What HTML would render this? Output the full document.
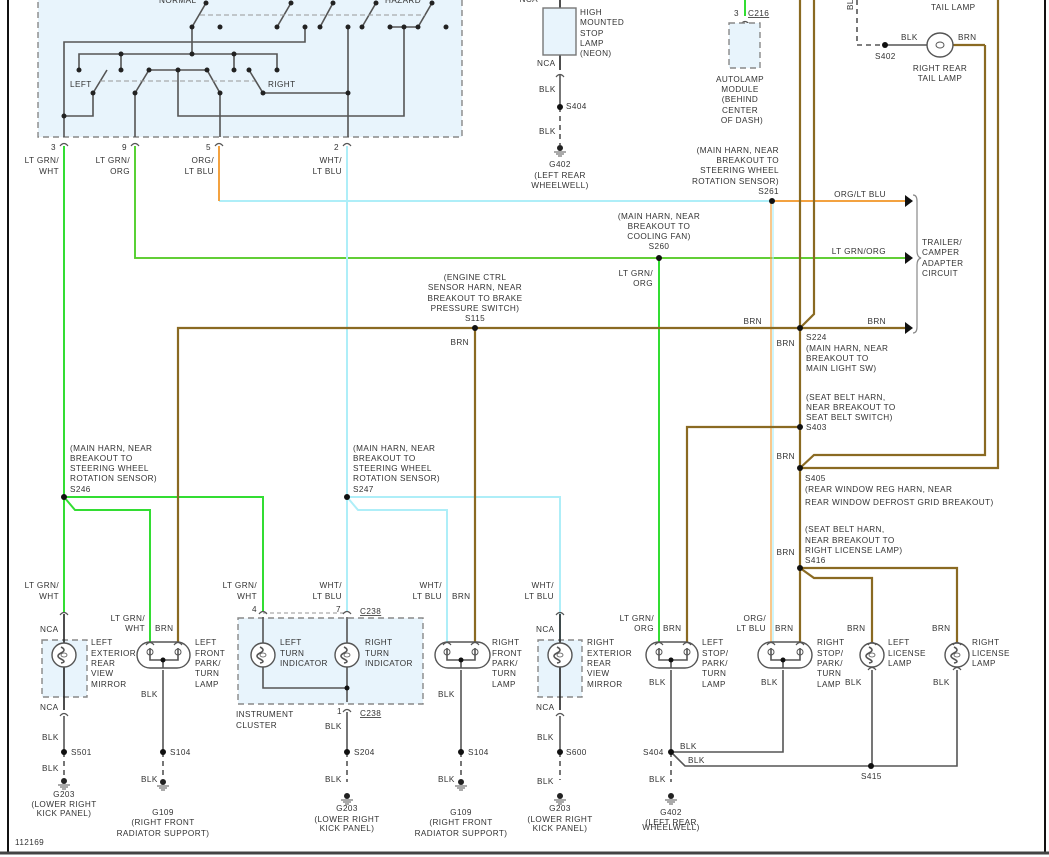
<!DOCTYPE html>
<html><head><meta charset="utf-8"><style>
body{margin:0;background:#fff}
svg{display:block}
text{font-family:"Liberation Sans",sans-serif;font-size:8.2px;fill:#333;letter-spacing:0.4px}
.g{stroke:#555;stroke-width:1.6;fill:none}
.k{stroke:#222;stroke-width:1.6;fill:none}
.d{stroke:#555;stroke-width:1.6;fill:none;stroke-dasharray:5 4}
.grn{stroke:#33dd33;stroke-width:2;fill:none}
.cy{stroke:#aeeef8;stroke-width:2;fill:none}
.brn{stroke:#8a6a22;stroke-width:2.2;fill:none}
.org{stroke:#f3a240;stroke-width:2;fill:none}
.box{fill:#e8f4fc;stroke:#888;stroke-width:1.4;stroke-dasharray:6 4}
</style></head><body>
<svg width="1049" height="857" viewBox="0 0 1049 857" xmlns="http://www.w3.org/2000/svg">
<defs>
<g id="bulb"><circle r="12" fill="#fff" stroke="#555" stroke-width="1.4"/><path d="M-3,-8 q6,3 0,6 q-6,3 0,6 q6,3 0,4" class="g" stroke-width="1"/><ellipse rx="3" ry="2" fill="none" stroke="#555" stroke-width="0.8"/></g>
<g id="conn"><path d="M-4,2 q4,-5 8,0" fill="none" stroke="#555" stroke-width="1.2"/></g>
<g id="gnd"><circle r="3" fill="#222"/><path d="M-6,4 h12 M-4,6 h8 M-2,8 h4" stroke="#555" stroke-width="1"/></g>
</defs>
<rect width="1049" height="857" fill="#fff"/>
<line x1="8" y1="0" x2="8" y2="852" stroke="#111" stroke-width="2"/>
<line x1="1045" y1="0" x2="1045" y2="852" stroke="#111" stroke-width="2"/>
<line x1="0" y1="853" x2="1049" y2="853" stroke="#444" stroke-width="3"/>

<!-- switch box -->
<rect x="38" y="-6" width="424" height="143" class="box"/>
<g class="g" stroke-width="1.4">
<path d="M206,3 L192,27 M291,3 L277,27 M333,3 L320,27 M376,3 L362,27 M432,3 L418,27"/>
<path d="M305,27 V42 H64 V116"/>
<path d="M192,27 V54 M79,70 V54 H277 V70 M121,54 V70 M234,54 V70"/>
<path d="M107,70 L93,93 M149,70 L135,93 M207,70 L220,93 M249,70 L263,93"/>
<path d="M149,70 H207 M178,70 V116 H404 V27"/>
<path d="M93,93 V116 H64 V137 M135,93 V137 M220,93 V137 M263,93 H348 M348,27 V137 M390,27 H418"/>
</g>
<path d="M200,15 H425 M100,81 H255" stroke="#999" stroke-width="1" stroke-dasharray="5 3"/>
<g fill="#222">
<circle cx="206" cy="3" r="2.5"/><circle cx="291" cy="3" r="2.5"/><circle cx="333" cy="3" r="2.5"/><circle cx="376" cy="3" r="2.5"/><circle cx="432" cy="3" r="2.5"/>
<circle cx="192" cy="27" r="2.5"/><circle cx="220" cy="27" r="2.5"/><circle cx="277" cy="27" r="2.5"/><circle cx="305" cy="27" r="2.5"/><circle cx="320" cy="27" r="2.5"/><circle cx="348" cy="27" r="2.5"/><circle cx="362" cy="27" r="2.5"/><circle cx="390" cy="27" r="2.5"/><circle cx="404" cy="27" r="2.5"/><circle cx="418" cy="27" r="2.5"/><circle cx="446" cy="27" r="2.5"/>
<circle cx="192" cy="54" r="2.5"/><circle cx="121" cy="54" r="2.5"/><circle cx="234" cy="54" r="2.5"/>
<circle cx="79" cy="70" r="2.5"/><circle cx="121" cy="70" r="2.5"/><circle cx="149" cy="70" r="2.5"/><circle cx="178" cy="70" r="2.5"/><circle cx="207" cy="70" r="2.5"/><circle cx="234" cy="70" r="2.5"/><circle cx="249" cy="70" r="2.5"/><circle cx="277" cy="70" r="2.5"/>
<circle cx="93" cy="93" r="2.5"/><circle cx="135" cy="93" r="2.5"/><circle cx="220" cy="93" r="2.5"/><circle cx="263" cy="93" r="2.5"/><circle cx="348" cy="93" r="2.5"/>
<circle cx="64" cy="116" r="2.5"/>
</g>
<text x="159" y="3">NORMAL</text><text x="385" y="3">HAZARD</text>
<text x="70" y="87">LEFT</text><text x="268" y="87">RIGHT</text>
<use href="#conn" x="64" y="144"/><use href="#conn" x="135" y="144"/><use href="#conn" x="219" y="144"/><use href="#conn" x="347" y="144"/>
<text x="51" y="150">3</text><text x="122" y="150">9</text><text x="206" y="150">5</text><text x="334" y="150">2</text>
<g text-anchor="end">
<text x="59" y="163">LT GRN/</text><text x="59" y="174">WHT</text>
<text x="130" y="163">LT GRN/</text><text x="130" y="174">ORG</text>
<text x="214" y="163">ORG/</text><text x="214" y="174">LT BLU</text>
<text x="342" y="163">WHT/</text><text x="342" y="174">LT BLU</text>
</g>

<!-- main wires -->
<path class="grn" d="M64,146 V612"/>
<path class="grn" d="M64,497 H263 V612 M64,497 L75,510 H150 V642"/>
<path class="org" d="M135,146 V258 H905" stroke-width="2.8"/><path d="M135,146 V258 H905" stroke="#33dd33" stroke-width="1.6" fill="none"/>
<path class="grn" d="M659,258 V642"/>
<path class="cy" d="M219,201 H772" stroke-width="1.5"/><path class="org" d="M219,146 V201"/>
<path class="org" d="M772,201 H905"/>
<path d="M771,201 V642" stroke="#f3a240" stroke-width="1.2" fill="none"/><path d="M773,201 V642" stroke="#aeeef8" stroke-width="1.2"/>
<path class="cy" d="M347,146 V612 M347,497 H560 V642 M347,497 L358,510 H447 V642"/>
<path class="brn" d="M178,642 V328 H905 M475,328 V642"/>
<path class="brn" d="M800,0 V642 M800,328 L814,314 V0"/>
<path class="brn" d="M985,45 V455 H814 L800,468 M998,0 V468 H800"/>
<path class="brn" d="M800,427 H687 V642 M800,568 H957 V642 M800,568 L814,578 H872 V642"/>
<path d="M905,195 l8,6 l-8,6 z M905,252 l8,6 l-8,6 z M905,322 l8,6 l-8,6 z" fill="#111"/>
<path d="M913,195 q4,0 4,6 v50 q0,6 4,7 q-4,1 -4,7 v62 q0,6 -4,6" stroke="#888" stroke-width="1.2" fill="none"/>
<g fill="#111"><circle cx="772" cy="201" r="3"/><circle cx="659" cy="258" r="3"/><circle cx="475" cy="328" r="3"/><circle cx="800" cy="328" r="3"/><circle cx="800" cy="427" r="3"/><circle cx="800" cy="468" r="3"/><circle cx="800" cy="568" r="3"/><circle cx="64" cy="497" r="3"/><circle cx="347" cy="497" r="3"/></g>
<text x="922" y="245">TRAILER/</text><text x="922" y="255">CAMPER</text><text x="922" y="266">ADAPTER</text><text x="922" y="276">CIRCUIT</text>
<g text-anchor="end">
<text x="779" y="153">(MAIN HARN, NEAR</text><text x="779" y="163">BREAKOUT TO</text><text x="779" y="173">STEERING WHEEL</text><text x="779" y="184">ROTATION SENSOR)</text><text x="779" y="194">S261</text>
<text x="886" y="197">ORG/LT BLU</text><text x="886" y="254">LT GRN/ORG</text><text x="886" y="324">BRN</text><text x="762" y="324">BRN</text>
<text x="653" y="276">LT GRN/</text><text x="653" y="286">ORG</text>
<text x="469" y="345">BRN</text><text x="795" y="346">BRN</text><text x="795" y="459">BRN</text><text x="795" y="555">BRN</text>
</g>
<g text-anchor="middle">
<text x="659" y="219">(MAIN HARN, NEAR</text><text x="659" y="229">BREAKOUT TO</text><text x="659" y="239">COOLING FAN)</text><text x="659" y="249">S260</text>
<text x="475" y="280">(ENGINE CTRL</text><text x="475" y="290">SENSOR HARN, NEAR</text><text x="475" y="301">BREAKOUT TO BRAKE</text><text x="475" y="311">PRESSURE SWITCH)</text><text x="475" y="321">S115</text>
</g>
<text x="806" y="340">S224</text><text x="806" y="351">(MAIN HARN, NEAR</text><text x="806" y="361">BREAKOUT TO</text><text x="806" y="371">MAIN LIGHT SW)</text>
<text x="806" y="400">(SEAT BELT HARN,</text><text x="806" y="410">NEAR BREAKOUT TO</text><text x="806" y="420">SEAT BELT SWITCH)</text><text x="806" y="430">S403</text>
<text x="805" y="481">S405</text><text x="805" y="492">(REAR WINDOW REG HARN, NEAR</text><text x="805" y="505">REAR WINDOW DEFROST GRID BREAKOUT)</text>
<text x="805" y="532">(SEAT BELT HARN,</text><text x="805" y="543">NEAR BREAKOUT TO</text><text x="805" y="553">RIGHT LICENSE LAMP)</text><text x="805" y="563">S416</text>
<text x="70" y="451">(MAIN HARN, NEAR</text><text x="70" y="461">BREAKOUT TO</text><text x="70" y="471">STEERING WHEEL</text><text x="70" y="481">ROTATION SENSOR)</text><text x="70" y="492">S246</text>
<text x="353" y="451">(MAIN HARN, NEAR</text><text x="353" y="461">BREAKOUT TO</text><text x="353" y="471">STEERING WHEEL</text><text x="353" y="481">ROTATION SENSOR)</text><text x="353" y="492">S247</text>

<!-- top middle -->
<path class="k" d="M560,0 V8 M560,55 V70"/><use href="#conn" x="560" y="75"/>
<path class="g" d="M560,75 V107"/><path class="d" d="M560,107 V145"/>
<rect x="543" y="8" width="33" height="47" fill="#e8f4fc" stroke="#777" stroke-width="1.4"/>
<circle cx="560" cy="107" r="3" fill="#111"/><use href="#gnd" x="560" y="148"/>
<text x="538" y="2" text-anchor="end">NCA</text>
<text x="580" y="15">HIGH</text><text x="580" y="25">MOUNTED</text><text x="580" y="36">STOP</text><text x="580" y="46">LAMP</text><text x="580" y="56">(NEON)</text>
<text x="537" y="66">NCA</text><text x="539" y="92">BLK</text><text x="566" y="109">S404</text><text x="539" y="134">BLK</text>
<g text-anchor="middle"><text x="560" y="167">G402</text><text x="560" y="178">(LEFT REAR</text><text x="560" y="188">WHEELWELL)</text></g>
<path class="grn" d="M745,0 V16"/><use href="#conn" x="745" y="22"/>
<text x="734" y="16">3</text><text x="748" y="16" text-decoration="underline">C216</text>
<rect x="729" y="23" width="31" height="45" class="box"/>
<g text-anchor="middle"><text x="740" y="82">AUTOLAMP</text><text x="740" y="92">MODULE</text><text x="740" y="102">(BEHIND</text><text x="740" y="113">CENTER</text><text x="742" y="123">OF DASH)</text></g>

<!-- top right -->
<path class="d" d="M857,0 V45 H885"/><path class="g" d="M885,45 H928"/><path class="brn" d="M952,45 H985"/>
<circle cx="885" cy="45" r="3" fill="#111"/>
<ellipse cx="940" cy="45" rx="13" ry="12" fill="#fff" stroke="#555" stroke-width="1.4"/><ellipse cx="940" cy="45" rx="4" ry="3" fill="none" stroke="#555"/>
<text x="853" y="10" transform="rotate(-90 853 10)">BL</text>
<text x="931" y="10">TAIL LAMP</text>
<text x="901" y="40">BLK</text><text x="958" y="40">BRN</text><text x="875" y="59">S402</text>
<g text-anchor="middle"><text x="940" y="71">RIGHT REAR</text><text x="940" y="81">TAIL LAMP</text></g>

<!-- bottom components -->
<rect x="42" y="640" width="45" height="57" class="box"/>
<path class="k" d="M64,614 V643 M64,667 V710"/><use href="#bulb" x="64" y="655"/>
<use href="#conn" x="64" y="613"/><use href="#conn" x="64" y="714"/>
<path class="g" d="M64,716 V752"/><path class="d" d="M64,752 V780"/><circle cx="64" cy="752" r="3" fill="#111"/><use href="#gnd" x="64" y="781"/>
<text x="59" y="588" text-anchor="end">LT GRN/</text><text x="59" y="599" text-anchor="end">WHT</text>
<text x="40" y="632">NCA</text><text x="91" y="645">LEFT</text><text x="91" y="656">EXTERIOR</text><text x="91" y="666">REAR</text><text x="91" y="676">VIEW</text><text x="91" y="687">MIRROR</text>
<text x="40" y="710">NCA</text><text x="42" y="740">BLK</text><text x="71" y="755">S501</text><text x="42" y="771">BLK</text>
<g text-anchor="middle"><text x="64" y="797">G203</text><text x="64" y="807">(LOWER RIGHT</text><text x="64" y="816">KICK PANEL)</text></g>
<rect x="137" y="642" width="53" height="26" rx="13" fill="#fff" stroke="#555" stroke-width="1.4"/>
<path class="g" stroke-width="1" d="M150,648 v12 h28 v-12 M163,660 v8"/><circle cx="150" cy="652" r="3" fill="none" stroke="#555"/><circle cx="178" cy="652" r="3" fill="none" stroke="#555"/>
<circle cx="163" cy="660" r="2.5" fill="#111"/><use href="#conn" x="150" y="643"/><use href="#conn" x="178" y="643"/>
<path class="g" d="M163,670 V752"/><path class="d" d="M163,752 V778"/><circle cx="163" cy="752" r="3" fill="#111"/><use href="#gnd" x="163" y="782"/>
<text x="145" y="621" text-anchor="end">LT GRN/</text><text x="145" y="631" text-anchor="end">WHT</text><text x="155" y="631">BRN</text>
<text x="195" y="645">LEFT</text><text x="195" y="656">FRONT</text><text x="195" y="666">PARK/</text><text x="195" y="676">TURN</text><text x="195" y="687">LAMP</text>
<text x="141" y="697">BLK</text><text x="170" y="755">S104</text><text x="141" y="782">BLK</text>
<g text-anchor="middle"><text x="163" y="815">G109</text><text x="163" y="825">(RIGHT FRONT</text><text x="163" y="836">RADIATOR SUPPORT)</text></g>
<rect x="238" y="618" width="185" height="86" class="box"/>
<path d="M263,613 H347" stroke="#aaa" stroke-width="1.2" stroke-dasharray="4 3"/>
<use href="#conn" x="263" y="612"/><use href="#conn" x="347" y="612"/>
<path class="g" d="M263,617 V643 M263,667 V688 H347 M347,617 V643 M347,667 V702"/>
<use href="#bulb" x="263" y="655"/><use href="#bulb" x="347" y="655"/><circle cx="347" cy="688" r="2.5" fill="#111"/>
<use href="#conn" x="347" y="710"/><path class="g" d="M347,712 V752"/><path class="d" d="M347,752 V782"/><circle cx="347" cy="752" r="3" fill="#111"/><use href="#gnd" x="347" y="796"/>
<text x="257" y="588" text-anchor="end">LT GRN/</text><text x="257" y="599" text-anchor="end">WHT</text>
<text x="342" y="588" text-anchor="end">WHT/</text><text x="342" y="599" text-anchor="end">LT BLU</text>
<text x="252" y="612">4</text><text x="336" y="612">7</text><text x="360" y="614" text-decoration="underline">C238</text>
<text x="280" y="645">LEFT</text><text x="280" y="656">TURN</text><text x="280" y="666">INDICATOR</text>
<text x="365" y="645">RIGHT</text><text x="365" y="656">TURN</text><text x="365" y="666">INDICATOR</text>
<text x="236" y="717">INSTRUMENT</text><text x="236" y="728">CLUSTER</text>
<text x="337" y="714">1</text><text x="360" y="716" text-decoration="underline">C238</text>
<text x="325" y="729">BLK</text><text x="354" y="755">S204</text><text x="325" y="782">BLK</text>
<g text-anchor="middle"><text x="347" y="811">G203</text><text x="347" y="822">(LOWER RIGHT</text><text x="347" y="831">KICK PANEL)</text></g>
<rect x="435" y="642" width="55" height="26" rx="13" fill="#fff" stroke="#555" stroke-width="1.4"/>
<path class="g" stroke-width="1" d="M447,648 v12 h28 v-12 M461,660 v8"/><circle cx="447" cy="652" r="3" fill="none" stroke="#555"/><circle cx="475" cy="652" r="3" fill="none" stroke="#555"/>
<circle cx="461" cy="660" r="2.5" fill="#111"/><use href="#conn" x="447" y="643"/><use href="#conn" x="475" y="643"/>
<path class="g" d="M461,670 V752"/><path class="d" d="M461,752 V778"/><circle cx="461" cy="752" r="3" fill="#111"/><use href="#gnd" x="461" y="782"/>
<text x="442" y="588" text-anchor="end">WHT/</text><text x="442" y="599" text-anchor="end">LT BLU</text><text x="452" y="599">BRN</text>
<text x="492" y="645">RIGHT</text><text x="492" y="656">FRONT</text><text x="492" y="666">PARK/</text><text x="492" y="676">TURN</text><text x="492" y="687">LAMP</text>
<text x="438" y="697">BLK</text><text x="468" y="755">S104</text><text x="438" y="782">BLK</text>
<g text-anchor="middle"><text x="461" y="815">G109</text><text x="461" y="825">(RIGHT FRONT</text><text x="461" y="836">RADIATOR SUPPORT)</text></g>
<rect x="538" y="640" width="44" height="57" class="box"/>
<path class="k" d="M560,614 V643 M560,667 V710"/><use href="#bulb" x="560" y="655"/>
<use href="#conn" x="560" y="613"/><use href="#conn" x="560" y="714"/>
<path class="g" d="M560,716 V752"/><path class="d" d="M560,752 V780"/><circle cx="560" cy="752" r="3" fill="#111"/><use href="#gnd" x="560" y="796"/>
<text x="554" y="588" text-anchor="end">WHT/</text><text x="554" y="599" text-anchor="end">LT BLU</text>
<text x="536" y="632">NCA</text><text x="587" y="645">RIGHT</text><text x="587" y="656">EXTERIOR</text><text x="587" y="666">REAR</text><text x="587" y="676">VIEW</text><text x="587" y="687">MIRROR</text>
<text x="536" y="710">NCA</text><text x="537" y="740">BLK</text><text x="566" y="755">S600</text><text x="537" y="784">BLK</text>
<g text-anchor="middle"><text x="560" y="811">G203</text><text x="560" y="822">(LOWER RIGHT</text><text x="560" y="831">KICK PANEL)</text></g>
<rect x="646" y="642" width="52" height="26" rx="13" fill="#fff" stroke="#555" stroke-width="1.4"/>
<path class="g" stroke-width="1" d="M659,648 v12 h28 v-12 M671,660 v8"/><circle cx="659" cy="652" r="3" fill="none" stroke="#555"/><circle cx="687" cy="652" r="3" fill="none" stroke="#555"/>
<circle cx="671" cy="660" r="2.5" fill="#111"/><use href="#conn" x="659" y="643"/><use href="#conn" x="687" y="643"/>
<path class="g" d="M671,670 V752 H783 V670 M671,752 L685,766 H957 V670 M872,670 V766"/>
<path class="d" d="M671,752 V782"/><circle cx="671" cy="752" r="3" fill="#111"/><circle cx="871" cy="766" r="3" fill="#111"/><use href="#gnd" x="671" y="796"/>
<text x="654" y="621" text-anchor="end">LT GRN/</text><text x="654" y="631" text-anchor="end">ORG</text><text x="663" y="631">BRN</text>
<text x="702" y="645">LEFT</text><text x="702" y="656">STOP/</text><text x="702" y="666">PARK/</text><text x="702" y="676">TURN</text><text x="702" y="687">LAMP</text>
<text x="649" y="685">BLK</text><text x="643" y="755">S404</text><text x="680" y="749">BLK</text><text x="688" y="763">BLK</text><text x="649" y="782">BLK</text>
<g text-anchor="middle"><text x="671" y="815">G402</text><text x="671" y="825">(LEFT REAR</text><text x="671" y="830">WHEELWELL)</text></g>
<rect x="758" y="642" width="54" height="26" rx="13" fill="#fff" stroke="#555" stroke-width="1.4"/>
<path class="g" stroke-width="1" d="M771,648 v12 h29 v-12 M783,660 v8"/><circle cx="771" cy="652" r="3" fill="none" stroke="#555"/><circle cx="800" cy="652" r="3" fill="none" stroke="#555"/>
<circle cx="783" cy="660" r="2.5" fill="#111"/><use href="#conn" x="771" y="643"/><use href="#conn" x="800" y="643"/>
<text x="766" y="621" text-anchor="end">ORG/</text><text x="766" y="631" text-anchor="end">LT BLU</text><text x="775" y="631">BRN</text>
<text x="817" y="645">RIGHT</text><text x="817" y="656">STOP/</text><text x="817" y="666">PARK/</text><text x="817" y="676">TURN</text><text x="817" y="687">LAMP</text>
<text x="761" y="685">BLK</text>
<use href="#bulb" x="872" y="655"/><use href="#conn" x="872" y="643"/><use href="#conn" x="872" y="668"/>
<use href="#bulb" x="957" y="655"/><use href="#conn" x="957" y="643"/><use href="#conn" x="957" y="668"/>
<text x="847" y="631">BRN</text><text x="888" y="645">LEFT</text><text x="888" y="656">LICENSE</text><text x="888" y="666">LAMP</text><text x="845" y="685">BLK</text>
<text x="932" y="631">BRN</text><text x="972" y="645">RIGHT</text><text x="972" y="656">LICENSE</text><text x="972" y="666">LAMP</text><text x="933" y="685">BLK</text>
<text x="861" y="779">S415</text>
<text x="15" y="845">112169</text>
</svg>
</body></html>
